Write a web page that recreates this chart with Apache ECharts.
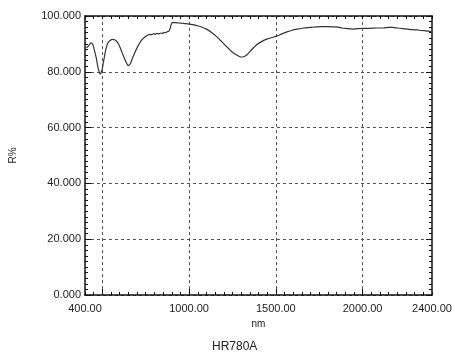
<!DOCTYPE html>
<html>
<head>
<meta charset="utf-8">
<script src="https://cdn.jsdelivr.net/npm/echarts@6/dist/echarts.min.js"></script>
<style>html,body{margin:0;padding:0;background:#fff;}#c{width:455px;height:360px;}</style>
</head>
<body>
<div id="c"></div>
<script>
var wavelength = [408, 419, 435, 445, 454, 465, 474, 481, 487, 492, 498, 505, 512, 520, 531, 545, 560, 570, 580, 595, 608, 622, 637, 644, 649, 655, 662, 672, 685, 705, 724, 745, 763, 775, 785, 795, 805, 815, 825, 835, 845, 855, 865, 875, 884, 890, 896, 902, 920, 940, 960, 980, 1004, 1030, 1053, 1078, 1101, 1130, 1159, 1188, 1216, 1245, 1274, 1290, 1303, 1318, 1332, 1360, 1390, 1420, 1448, 1478, 1506, 1535, 1564, 1593, 1622, 1660, 1700, 1735, 1767, 1800, 1830, 1860, 1882, 1910, 1940, 1970, 2008, 2040, 2080, 2120, 2150, 2172, 2200, 2230, 2260, 2288, 2315, 2340, 2363, 2380, 2392, 2400];
var reflectance = [88.6, 89.2, 90.4, 89.8, 87.8, 85.0, 81.8, 80.2, 79.2, 79.6, 80.6, 83.0, 85.4, 88.0, 90.2, 91.2, 91.6, 91.5, 91.1, 89.8, 87.8, 85.6, 83.4, 82.6, 82.2, 82.5, 83.0, 84.6, 86.6, 89.2, 91.2, 92.5, 93.2, 93.4, 93.3, 93.7, 93.5, 93.8, 93.6, 93.9, 93.7, 94.1, 94.0, 94.4, 94.6, 95.4, 96.8, 97.6, 97.6, 97.5, 97.4, 97.3, 97.1, 96.8, 96.4, 95.9, 95.3, 94.1, 92.6, 90.8, 89.0, 87.3, 86.0, 85.5, 85.3, 85.5, 86.0, 87.9, 89.7, 90.9, 91.7, 92.3, 92.8, 93.6, 94.3, 94.9, 95.3, 95.7, 95.9, 96.1, 96.2, 96.2, 96.1, 96.0, 95.7, 95.5, 95.3, 95.5, 95.6, 95.6, 95.7, 95.7, 95.9, 95.9, 95.7, 95.5, 95.3, 95.1, 95.0, 94.8, 94.7, 94.6, 94.4, 94.0];
var xLabelValues = [400, 1000, 1500, 2000, 2400];
var xGridValues = [500, 1000, 1500, 2000];
var yTitle = 'R%';
var xTitle = 'nm';
var chartTitle = 'HR780A';

var points = wavelength.map(function (w, i) { return [w, reflectance[i]]; });
var chart = echarts.init(document.getElementById('c'), null, { renderer: 'canvas' });
var font = 'Liberation Sans, Arial, sans-serif';
var axisLine = { show: true, lineStyle: { color: '#111', width: 1.5 } };
var dashed = { show: true, lineStyle: { color: '#555', width: 1, type: [3, 3] } };
chart.setOption({
  animation: false,
  backgroundColor: '#fff',
  grid: { left: 84, right: 23, top: 16, bottom: 65, containLabel: false },
  graphic: [{
    type: 'text', left: 235 - 23, top: 341,
    style: { text: chartTitle, fontSize: 12, fontFamily: font, fill: '#222' }
  }],
  xAxis: [{
    type: 'value', min: 400, max: 2400, interval: 100, position: 'bottom',
    axisLine: axisLine,
    axisTick: { show: true, inside: true, length: 3, lineStyle: { color: '#111' } },
    minorTick: { show: true, splitNumber: 2, length: 3, lineStyle: { color: '#111' } },
    splitLine: { show: false },
    axisLabel: { customValues: xLabelValues, formatter: function (v) { return v.toFixed(2); }, fontSize: 11, fontFamily: font, color: '#222', margin: 8 },
    name: xTitle, nameLocation: 'middle', nameGap: 20,
    nameTextStyle: { fontSize: 10, fontFamily: font, color: '#222' }
  }, {
    type: 'value', min: 400, max: 2400, position: 'bottom',
    axisLine: { show: false },
    axisTick: { show: true, inside: true, length: 6, customValues: xGridValues, lineStyle: { color: '#111' } },
    splitLine: dashed,
    axisLabel: { show: false }
  }, {
    type: 'value', min: 400, max: 2400, interval: 100, position: 'top',
    axisLine: axisLine,
    axisTick: { show: true, inside: true, length: 3, lineStyle: { color: '#111' } },
    minorTick: { show: true, splitNumber: 2, length: 3, lineStyle: { color: '#111' } },
    splitLine: { show: false },
    axisLabel: { show: false }
  }],
  yAxis: [{
    type: 'value', min: 0, max: 100, interval: 20, position: 'left',
    axisLine: axisLine,
    axisTick: { show: true, inside: true, length: 6, lineStyle: { color: '#111' } },
    minorTick: { show: true, splitNumber: 10, length: 3, lineStyle: { color: '#111' } },
    splitLine: dashed,
    axisLabel: { formatter: function (v) { return v.toFixed(3); }, fontSize: 11, fontFamily: font, color: '#222', margin: 4 },
    name: yTitle, nameLocation: 'middle', nameGap: 67, nameRotate: 90,
    nameTextStyle: { fontSize: 10, fontFamily: font, color: '#222' }
  }, {
    type: 'value', min: 0, max: 100, interval: 20, position: 'right',
    axisLine: axisLine,
    axisTick: { show: true, inside: true, length: 6, lineStyle: { color: '#111' } },
    minorTick: { show: true, splitNumber: 10, length: 3, lineStyle: { color: '#111' } },
    splitLine: { show: false },
    axisLabel: { show: false }
  }],
  series: [{
    type: 'line', xAxisIndex: 0, yAxisIndex: 0, data: points,
    showSymbol: false, symbol: 'none', smooth: 0.2,
    lineStyle: { color: '#333', width: 1.2 }
  }]
});
</script>
</body>
</html>
